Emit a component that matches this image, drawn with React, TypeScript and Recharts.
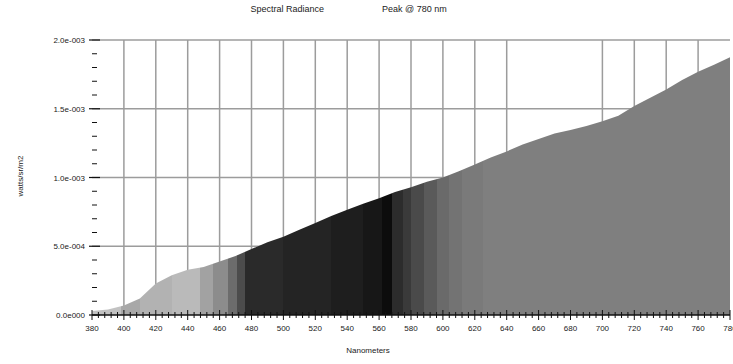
import { AreaChart, Area, XAxis, YAxis, CartesianGrid } from "recharts";

// spectral radiance, one reading every 10 nm
const wavelengths = [
  380, 390, 400, 410, 420, 430, 440, 450, 460, 470, 480, 490, 500, 510, 520, 530, 540, 550, 560, 570,
  580, 590, 600, 610, 620, 630, 640, 650, 660, 670, 680, 690, 700, 710, 720, 730, 740, 750, 760, 770, 780,
];
const radiance = [
  0.00003, 0.00004, 0.00007, 0.00012, 0.00023, 0.00029, 0.00033, 0.00035, 0.00039, 0.00043, 0.00048,
  0.00053, 0.00057, 0.00062, 0.00067, 0.00072, 0.000765, 0.00081, 0.00085, 0.000895, 0.00093, 0.00097,
  0.001, 0.001045, 0.001095, 0.001145, 0.00119, 0.00124, 0.00128, 0.00132, 0.001345, 0.001375, 0.00141,
  0.00145, 0.00152, 0.00158, 0.00164, 0.00171, 0.00177, 0.00182, 0.001875,
];

// grey shade of each wavelength band (band start, shade)
const bandStarts = [380, 398, 410, 430, 448, 456, 465, 471, 476, 500, 530, 550, 562, 568, 575, 580, 588, 596, 604, 612, 625];
const bandShades = [
  "#c2c2c2", "#a8a8a8", "#b2b2b2", "#bababa", "#a2a2a2", "#8c8c8c", "#6c6c6c", "#4c4c4c", "#2a2a2a",
  "#242424", "#1e1e1e", "#171717", "#0c0c0c", "#2c2c2c", "#3a3a3a", "#4a4a4a", "#5a5a5a", "#6a6a6a",
  "#737373", "#7a7a7a", "#7f7f7f",
];

const xLabels = [380, 400, 420, 440, 460, 480, 500, 520, 540, 560, 580, 600, 620, 640, 660, 680, 700, 720, 740, 760, 780];
const yLabels = ["0.0e000", "5.0e-004", "1.0e-003", "1.5e-003", "2.0e-003"];
const gridX = [400, 420, 440, 460, 480, 500, 520, 540, 560, 580, 600, 620, 640, 700, 720, 740, 760];
const gridY = [0.0005, 0.001, 0.0015, 0.002];

const data = wavelengths.map((w, i) => ({ w, v: radiance[i] }));

const xTicks: number[] = [];
for (let w = 380; w <= 780; w += 4) xTicks.push(w);
const yTicks: number[] = [];
for (let k = 0; k <= 20; k++) yTicks.push(k * 0.0001);

const FONT = "'Liberation Sans', Arial, sans-serif";

function XTick({ x, y, payload }: any) {
  const v = payload.value;
  const major = xLabels.includes(v);
  const h = major ? 5 : 3;
  return (
    <g>
      <line x1={x} x2={x} y1={y - h} y2={y + h} stroke="#111" strokeWidth={1} />
      {major && (
        <text x={x} y={y + 16} textAnchor="middle" fontSize={8} fontFamily={FONT} fill="#222">
          {v}
        </text>
      )}
    </g>
  );
}

function YTick({ x, y, index }: any) {
  const major = index % 5 === 0;
  return (
    <g>
      {major ? (
        <line x1={x - 3} x2={x + 8} y1={y} y2={y} stroke="#111" strokeWidth={1.2} />
      ) : (
        <line x1={x} x2={x + 5} y1={y} y2={y} stroke="#111" strokeWidth={1} />
      )}
      {major && (
        <text x={x - 7} y={y + 3} textAnchor="end" fontSize={8} fontFamily={FONT} fill="#222">
          {yLabels[index / 5]}
        </text>
      )}
    </g>
  );
}

export default function App() {
  const stops: JSX.Element[] = [];
  bandStarts.forEach((start, i) => {
    const end = i + 1 < bandStarts.length ? bandStarts[i + 1] : 780;
    const a = (start - 380) / 400;
    const b = (end - 380) / 400;
    stops.push(<stop key={`a${i}`} offset={a} stopColor={bandShades[i]} />);
    stops.push(<stop key={`b${i}`} offset={b} stopColor={bandShades[i]} />);
  });

  return (
    <div style={{ position: "absolute", left: 0, top: 0, width: 733, height: 364, background: "#fff", fontFamily: FONT }}>
      {/* title in two parts */}
      <div style={{ position: "absolute", top: 4, right: 733 - 324, fontSize: 9, color: "#222", whiteSpace: "nowrap" }}>
        Spectral Radiance
      </div>
      <div style={{ position: "absolute", top: 4, left: 382, fontSize: 9, color: "#222", whiteSpace: "nowrap" }}>
        Peak @ 780 nm
      </div>
      <div
        style={{
          position: "absolute",
          left: 20,
          top: 176,
          fontSize: 8,
          color: "#222",
          transform: "translate(-50%, -50%) rotate(-90deg)",
          whiteSpace: "nowrap",
        }}
      >
        watts/sr/m2
      </div>
      <div style={{ position: "absolute", top: 346, left: 318, width: 100, textAlign: "center", fontSize: 8, color: "#222" }}>
        Nanometers
      </div>
      <AreaChart width={733} height={364} data={data} margin={{ top: 40, right: 3, left: 0, bottom: 0 }}>
        <defs>
          <linearGradient id="spectrum" x1="0" y1="0" x2="1" y2="0">
            {stops}
          </linearGradient>
        </defs>
        <CartesianGrid
          stroke="#9c9c9c"
          strokeWidth={1.5}
          horizontalValues={gridY}
          verticalValues={gridX}
          syncWithTicks
        />
        <XAxis
          dataKey="w"
          type="number"
          domain={[380, 780]}
          ticks={xTicks}
          interval={0}
          height={49}
          tickSize={0}
          tickMargin={0}
          tickLine={false}
          axisLine={{ stroke: "#111", strokeWidth: 1.5 }}
          tick={<XTick />}
        />
        <YAxis
          type="number"
          domain={[0, 0.002]}
          ticks={yTicks}
          interval={0}
          width={92}
          tickSize={0}
          tickMargin={0}
          tickLine={false}
          axisLine={false}
          tick={<YTick />}
        />
        <Area
          type="linear"
          dataKey="v"
          stroke="none"
          fill="url(#spectrum)"
          fillOpacity={1}
          isAnimationActive={false}
        />
      </AreaChart>
    </div>
  );
}
